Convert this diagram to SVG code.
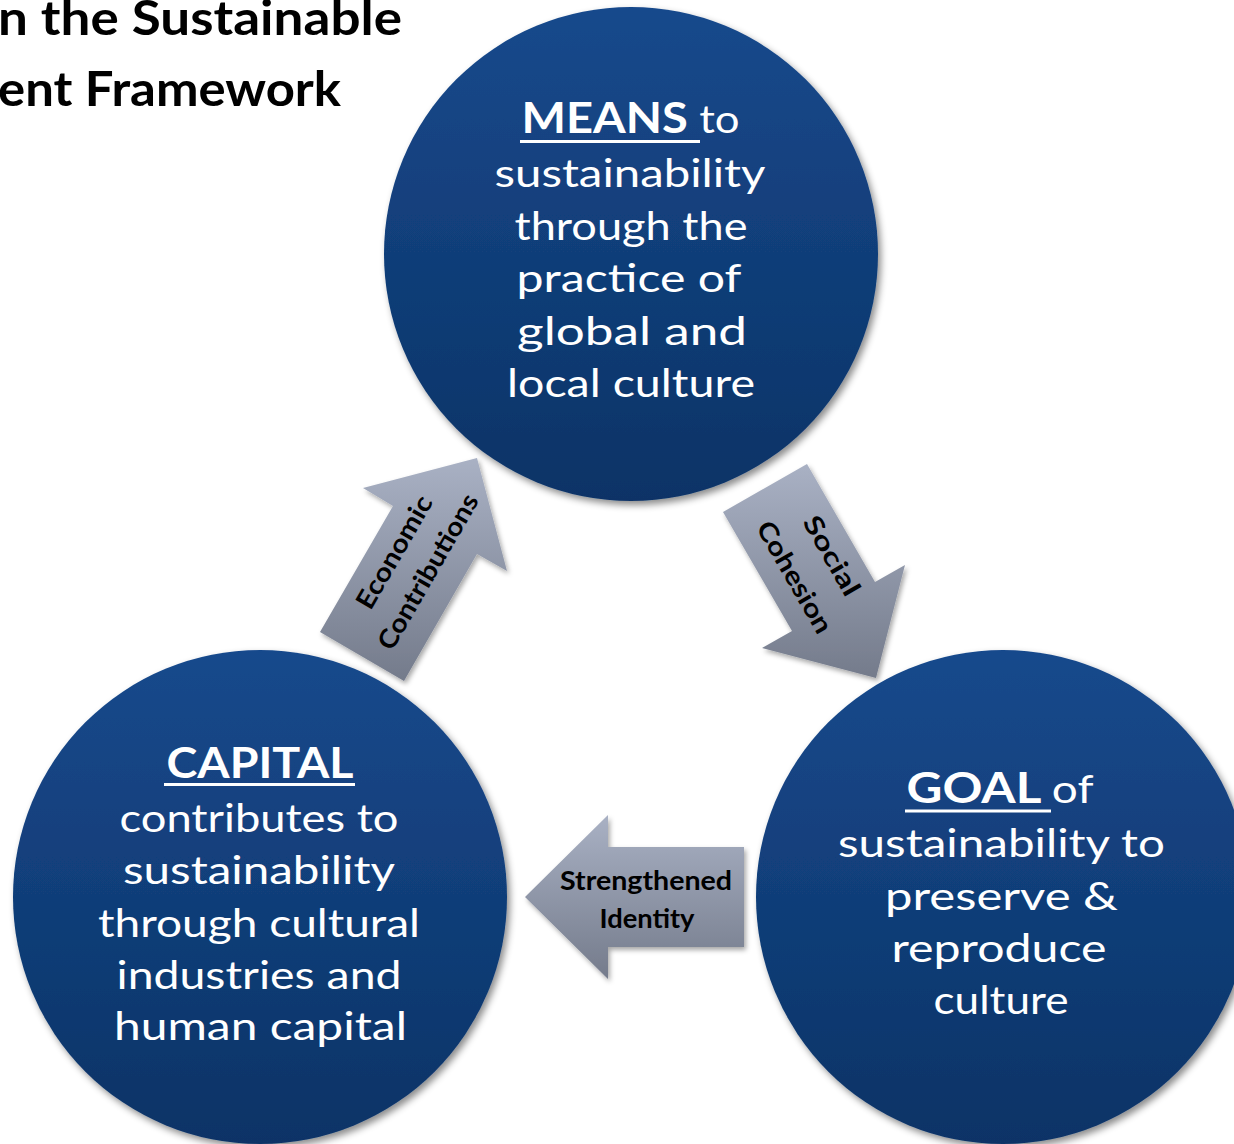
<svg xmlns="http://www.w3.org/2000/svg" width="1234" height="1144" viewBox="0 0 1234 1144">
  <defs>
    <linearGradient id="circleGrad" x1="0" y1="0" x2="0" y2="1">
      <stop offset="0" stop-color="#17498c"/>
      <stop offset="1" stop-color="#0b3366"/>
    </linearGradient>
    <linearGradient id="arrowGrad" x1="0" y1="0" x2="0" y2="1">
      <stop offset="0" stop-color="#a9b1c4"/>
      <stop offset="1" stop-color="#747b8b"/>
    </linearGradient>
    <filter id="shadow" x="-20%" y="-20%" width="140%" height="140%">
      <feDropShadow dx="3" dy="4" stdDeviation="3.5" flood-color="#000" flood-opacity="0.45"/>
    </filter>
    <filter id="ashadow" x="-20%" y="-20%" width="140%" height="140%">
      <feDropShadow dx="2" dy="3" stdDeviation="2.5" flood-color="#000" flood-opacity="0.35"/>
    </filter>
  </defs>
  <style>
    .circle { fill: url(#circleGrad); filter: url(#shadow); }
    .arrow { fill: url(#arrowGrad); filter: url(#ashadow); }
    .title { font-family: "Lato", "Liberation Sans", sans-serif; font-weight: 700; font-size: 47px; fill: #000; }
    .body { font-family: "Lato", "Liberation Sans", sans-serif; font-size: 39px; fill: #fff; text-anchor: middle; }
    .head { font-weight: 700; font-size: 42px; }
    .ul { stroke: #fff; stroke-width: 3; }
    .alabel { font-family: "Lato", "Liberation Sans", sans-serif; font-weight: 700; font-size: 26px; fill: #000; text-anchor: middle; }
  </style>

  <rect width="1234" height="1144" fill="#fff"/>

  <g id="title">
    <text class="title" x="-2" y="35" textLength="404" lengthAdjust="spacingAndGlyphs">n the Sustainable</text>
    <text class="title" x="-2" y="106" textLength="343" lengthAdjust="spacingAndGlyphs">ent Framework</text>
  </g>

  <g id="connectors">
    <g id="arrow-economic">
      <polygon class="arrow" points="320,632 393,506 363,488 477,458 507,571 477,554 404,681"/>
      <g transform="translate(362,656) rotate(-60)">
        <text class="alabel" x="106" y="-15" textLength="126" lengthAdjust="spacingAndGlyphs">Economic</text>
        <text class="alabel" x="106" y="24" textLength="175" lengthAdjust="spacingAndGlyphs">Contributions</text>
      </g>
    </g>
    <g id="arrow-social">
      <polygon class="arrow" points="807,464 875,582 905,565 876,678 762,648 792,631 723,512"/>
      <g transform="translate(765,488) rotate(60)">
        <text class="alabel" x="92" y="-15" textLength="88" lengthAdjust="spacingAndGlyphs">Social</text>
        <text class="alabel" x="92" y="28" textLength="125" lengthAdjust="spacingAndGlyphs">Cohesion</text>
      </g>
    </g>
    <g id="arrow-identity">
      <polygon class="arrow" points="744,847 608,847 608,815 525,897 608,979 608,947 744,947"/>
      <text class="alabel" x="646" y="890" textLength="172" lengthAdjust="spacingAndGlyphs">Strengthened</text>
      <text class="alabel" x="647" y="928" textLength="95" lengthAdjust="spacingAndGlyphs">Identity</text>
    </g>
  </g>

  <g id="node-means">
    <circle class="circle" cx="631" cy="254" r="247"/>
    <text class="body" x="630.5" y="133" textLength="218" lengthAdjust="spacingAndGlyphs"><tspan class="head">MEANS </tspan>to</text>
    <line class="ul" x1="520" y1="141.5" x2="700" y2="141.5"/>
    <text class="body" x="630" y="187" textLength="271" lengthAdjust="spacingAndGlyphs">sustainability</text>
    <text class="body" x="631" y="239.5" textLength="233" lengthAdjust="spacingAndGlyphs">through the</text>
    <text class="body" x="629" y="292" textLength="225" lengthAdjust="spacingAndGlyphs">practice of</text>
    <text class="body" x="632" y="344.5" textLength="230" lengthAdjust="spacingAndGlyphs">global and</text>
    <text class="body" x="631" y="397" textLength="248" lengthAdjust="spacingAndGlyphs">local culture</text>
  </g>

  <g id="node-capital">
    <circle class="circle" cx="260" cy="897" r="247"/>
    <text class="body head" x="260" y="778" textLength="187" lengthAdjust="spacingAndGlyphs">CAPITAL</text>
    <line class="ul" x1="164" y1="784.5" x2="355" y2="784.5"/>
    <text class="body" x="259" y="832" textLength="279" lengthAdjust="spacingAndGlyphs">contributes to</text>
    <text class="body" x="259" y="884" textLength="272" lengthAdjust="spacingAndGlyphs">sustainability</text>
    <text class="body" x="259" y="936.5" textLength="322" lengthAdjust="spacingAndGlyphs">through cultural</text>
    <text class="body" x="259" y="988.5" textLength="285" lengthAdjust="spacingAndGlyphs">industries and</text>
    <text class="body" x="260.5" y="1040" textLength="293" lengthAdjust="spacingAndGlyphs">human capital</text>
  </g>

  <g id="node-goal">
    <circle class="circle" cx="1003" cy="897" r="247"/>
    <text class="body" x="1000" y="803" textLength="187" lengthAdjust="spacingAndGlyphs"><tspan class="head">GOAL </tspan>of</text>
    <line class="ul" x1="905" y1="811" x2="1051" y2="811"/>
    <text class="body" x="1001.5" y="857" textLength="327" lengthAdjust="spacingAndGlyphs">sustainability to</text>
    <text class="body" x="1001.5" y="910" textLength="233" lengthAdjust="spacingAndGlyphs">preserve &amp;</text>
    <text class="body" x="999" y="962" textLength="215" lengthAdjust="spacingAndGlyphs">reproduce</text>
    <text class="body" x="1001" y="1013.5" textLength="135" lengthAdjust="spacingAndGlyphs">culture</text>
  </g>
</svg>
